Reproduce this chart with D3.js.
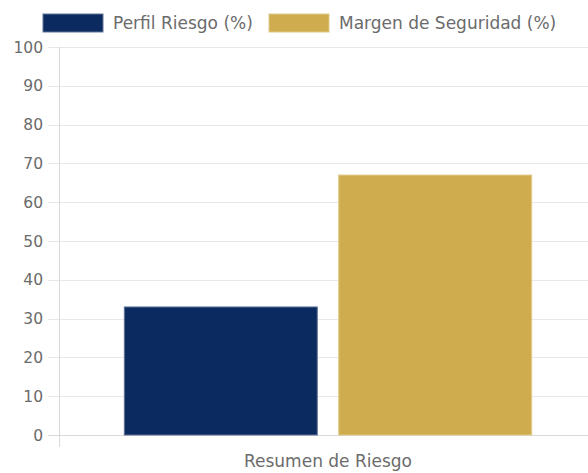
<!DOCTYPE html>
<html>
<head>
<meta charset="utf-8">
<script src="https://cdn.jsdelivr.net/npm/d3@7"></script>
<style>
  body { margin: 0; background: #fff; }
  text { font-family: "DejaVu Sans", sans-serif; fill: #6b6b6b; }
</style>
</head>
<body>
<div id="chart"></div>
<script>
var categories = ["Resumen de Riesgo"];
var seriesNames = ["Perfil Riesgo (%)", "Margen de Seguridad (%)"];
var seriesValues = [[33], [67]];
var seriesColors = ["#0b2a5f", "#cfac4d"];
var yTicks = [0, 10, 20, 30, 40, 50, 60, 70, 80, 90, 100];

var width = 588, height = 473;
var margin = {top: 47, right: -8, bottom: 38, left: 60};

var svg = d3.select("#chart")
    .append("svg")
    .attr("width", width)
    .attr("height", height);

var x0 = d3.scaleBand()
    .domain(categories)
    .range([margin.left, width - margin.right])
    .padding(0);

var x1 = d3.scaleBand()
    .domain(seriesNames)
    .range([x0.bandwidth() * 0.1, x0.bandwidth() * 0.9])
    .paddingInner(0.1)
    .paddingOuter(0.05);

var y = d3.scaleLinear()
    .domain([0, 100])
    .range([height - margin.bottom, margin.top]);

function edge(c) {
    return d3.interpolateRgb(c, "#ffffff")(0.35);
}

// gridlines
svg.append("g")
    .selectAll("line")
    .data(yTicks)
    .enter()
    .append("line")
    .attr("x1", margin.left - 12)
    .attr("x2", width - margin.right)
    .attr("y1", function (d) { return Math.round(y(d)) + 0.5; })
    .attr("y2", function (d) { return Math.round(y(d)) + 0.5; })
    .attr("stroke", function (d) { return d === 0 ? "#d9d9d9" : "#e8e8e8"; })
    .attr("stroke-width", 1);

// y axis line
svg.append("line")
    .attr("x1", margin.left - 0.5)
    .attr("x2", margin.left - 0.5)
    .attr("y1", margin.top)
    .attr("y2", y(0) + 12)
    .attr("stroke", "#d9d9d9");

// y tick labels
svg.append("g")
    .selectAll("text")
    .data(yTicks)
    .enter()
    .append("text")
    .attr("x", margin.left - 17)
    .attr("y", function (d) { return y(d); })
    .attr("dy", "0.36em")
    .attr("text-anchor", "end")
    .style("font-size", "15.5px")
    .text(function (d) { return d; });

// bars
var groups = svg.append("g")
    .selectAll("g")
    .data(categories)
    .enter()
    .append("g")
    .attr("transform", function (d) { return "translate(" + x0(d) + ",0)"; });

groups.selectAll("rect")
    .data(function (d, i) {
        return seriesNames.map(function (s, j) {
            return {series: s, value: seriesValues[j][i], color: seriesColors[j]};
        });
    })
    .enter()
    .append("rect")
    .attr("x", function (d) { return x1(d.series); })
    .attr("width", x1.bandwidth())
    .attr("y", function (d) { return y(d.value); })
    .attr("height", function (d) { return y(0) - y(d.value); })
    .attr("fill", function (d) { return d.color; })
    .attr("stroke", function (d) { return edge(d.color); })
    .attr("stroke-width", 1);

// x axis label
svg.append("g")
    .selectAll("text")
    .data(categories)
    .enter()
    .append("text")
    .attr("x", function (d) { return x0(d) + x0.bandwidth() / 2; })
    .attr("y", 467)
    .attr("text-anchor", "middle")
    .style("font-size", "17px")
    .text(function (d) { return d; });

// legend
var legendX = [43, 269];
var legend = svg.append("g")
    .selectAll("g")
    .data(seriesNames)
    .enter()
    .append("g")
    .attr("transform", function (d, i) { return "translate(" + legendX[i] + ",14)"; });

legend.append("rect")
    .attr("width", 60)
    .attr("height", 18)
    .attr("fill", function (d, i) { return seriesColors[i]; })
    .attr("stroke", function (d, i) { return edge(seriesColors[i]); });

legend.append("text")
    .attr("x", 70)
    .attr("y", 15)
    .style("font-size", "17px")
    .text(function (d) { return d; });
</script>
</body>
</html>
